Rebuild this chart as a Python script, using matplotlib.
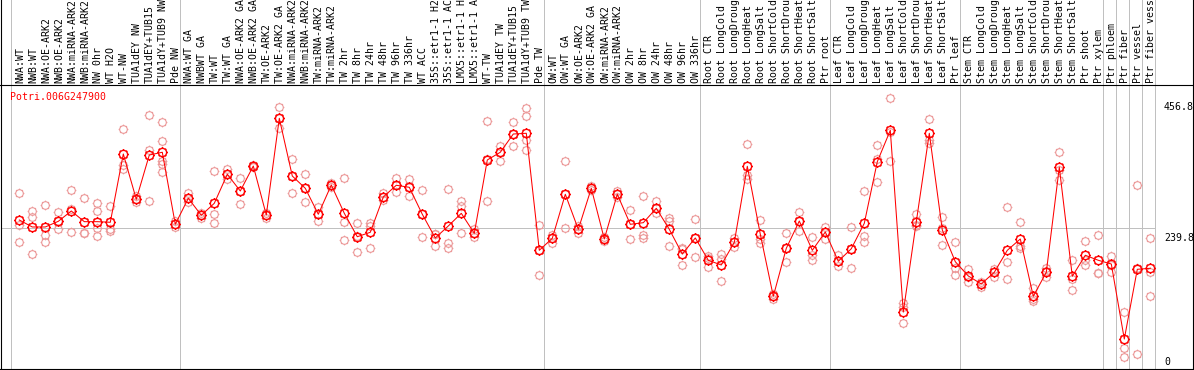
import numpy as np
import matplotlib
matplotlib.use("Agg")
import matplotlib.pyplot as plt
import matplotlib.path as mpath
import matplotlib.transforms as mtransforms
from matplotlib.lines import Line2D

# sample labels, in plotting order
labels = [
    "NWA:WT", "NWB:WT", "NWA:OE-ARK2", "NWB:OE-ARK2", "NWA:miRNA-ARK2", "NWB:miRNA-ARK2",
    "NW 0hr", "WT H2O", "WT-NW", "TUA1dEY NW", "TUA1dEY+TUB15", "TUA1dY+TUB9 NW", "Pde NW",
    "NWA:WT GA", "NWBWT GA", "TW:WT", "TW:WT GA", "NWA:OE-ARK2 GA", "NWB:OE-ARK2 GA",
    "TW:OE-ARK2", "TW:OE-ARK2 GA", "NWA:miRNA-ARK2 GA", "NWB:miRNA-ARK2 GA", "TW:miRNA-ARK2",
    "TW:miRNA-ARK2 GA", "TW 2hr", "TW 8hr", "TW 24hr", "TW 48hr", "TW 96hr", "TW 336hr",
    "WT ACC", "35S::etr1-1 H2O", "35S::etr1-1 ACC", "LMX5::etr1-1 H2O", "LMX5::etr1-1 ACC",
    "WT-TW", "TUA1dEY TW", "TUA1dEY+TUB15 TW", "TUA1dY+TUB9 TW", "Pde TW",
    "OW:WT", "OW:WT GA", "OW:OE-ARK2", "OW:OE-ARK2 GA", "OW:miRNA-ARK2", "OW:miRNA-ARK2 GA",
    "OW 2hr", "OW 8hr", "OW 24hr", "OW 48hr", "OW 96hr", "OW 336hr",
    "Root CTR", "Root LongCold", "Root LongDrought", "Root LongHeat", "Root LongSalt",
    "Root ShortCold", "Root ShortDrought", "Root ShortHeat", "Root ShortSalt", "Ptr root",
    "Leaf CTR", "Leaf LongCold", "Leaf LongDrought", "Leaf LongHeat", "Leaf LongSalt",
    "Leaf ShortCold", "Leaf ShortDrought", "Leaf ShortHeat", "Leaf ShortSalt", "Ptr leaf",
    "Stem CTR", "Stem LongCold", "Stem LongDrought", "Stem LongHeat", "Stem LongSalt",
    "Stem ShortCold", "Stem ShortDrought", "Stem ShortHeat", "Stem ShortSalt", "Ptr shoot",
    "Ptr xylem", "Ptr phloem", "Ptr fiber", "Ptr vessel", "Ptr fiber vessel",
]

# number of samples in each boxed group
group_sizes = [13, 28, 12, 10, 10, 11, 1, 1, 1, 1]

# mean expression per sample
means = [
    253.0, 241.3, 241.3, 250.8, 268.1, 250.2, 250.2, 249.2, 363.6, 287.7,
    361.9, 366.5, 245.8, 289.4, 260.9, 281.0, 329.6, 301.6, 343.5, 261.4,
    423.4, 326.7, 306.1, 262.6, 311.7, 264.2, 225.0, 232.4, 291.6, 311.2,
    307.8, 262.6, 222.9, 243.0, 264.2, 230.7, 353.6, 366.5, 397.1, 398.3,
    202.2, 222.4, 296.1, 237.4, 306.1, 221.2, 296.1, 245.8, 248.5, 272.6,
    237.4, 196.0, 222.9, 185.5, 177.6, 215.6, 343.0, 229.1, 125.2, 205.6,
    251.3, 202.2, 232.9, 183.8, 204.9, 247.5, 350.7, 403.3, 98.9, 250.2,
    398.3, 236.3, 183.1, 159.2, 145.8, 165.4, 202.2, 221.2, 125.2, 165.4,
    341.3, 158.7, 193.9, 185.5, 179.3, 53.6, 170.4, 172.1,
]

# individual replicates per sample
reps = [
    [297.8, 244.6, 215.6], [268.6, 258.5, 195.5], [277.6, 227.9, 215.6], [266.4, 237.4, 251.3],
    [303.3, 271.4, 232.4], [289.4, 231.7, 230.7], [281.0, 267.6, 239.6, 226.7], [276.0, 237.4, 235.1],
    [405.0, 345.7, 338.0], [293.2, 283.7, 287.7], [429.0, 370.3, 284.9],
    [416.7, 385.4, 352.4, 346.9, 332.9], [250.8, 240.8, 245.8],
    [298.8, 282.7, 289.4], [264.2, 256.9, 260.9], [335.1, 262.6, 247.5], [338.5, 321.2, 329.6],
    [322.9, 279.3, 301.6], [345.7, 341.3, 343.5], [264.2, 256.9, 260.9], [442.4, 407.7, 423.4],
    [354.7, 297.8, 326.7], [330.1, 282.7, 306.1], [275.3, 251.8, 262.6], [314.5, 308.8, 311.7],
    [322.9, 249.2, 219.0], [247.5, 198.9, 226.7], [248.5, 243.0, 205.6], [297.8, 286.5, 291.6],
    [322.9, 299.4, 311.2], [321.2, 293.7, 307.8], [303.3, 224.0, 262.6], [229.6, 208.9, 230.0],
    [304.5, 214.0, 206.6], [285.4, 276.5, 230.7], [237.9, 225.0, 230.7], [419.4, 284.9, 356.0],
    [377.5, 351.4, 366.5], [416.7, 377.5, 397.1], [440.2, 427.8, 387.1, 370.3], [244.6, 160.4, 202.0],
    [227.9, 215.0, 222.4], [351.9, 239.1, 296.0], [231.7, 243.0, 237.4], [310.5, 303.3, 306.1],
    [225.0, 218.3, 221.2], [301.6, 292.1, 296.1], [269.8, 220.7, 245.8], [293.2, 227.9, 222.4],
    [284.9, 264.2, 272.6], [255.9, 251.3, 209.5], [206.6, 177.6, 204.0], [254.7, 191.0, 222.9],
    [193.2, 174.8, 189.8], [196.5, 187.2, 150.8], [222.4, 208.3, 215.6], [380.4, 328.4, 321.7],
    [253.0, 214.0, 220.7], [129.0, 120.1, 125.2], [230.7, 182.1, 205.6], [266.4, 234.6, 251.0],
    [224.5, 194.4, 186.0], [241.8, 221.7, 232.9], [194.9, 176.4, 183.8], [240.8, 172.1, 204.9],
    [301.6, 226.7, 216.7], [378.7, 316.2, 355.7], [456.8, 351.9, 401.1], [113.4, 107.7, 79.9],
    [263.1, 245.1, 242.4], [421.7, 387.1, 381.5], [257.5, 211.1, 240.3], [215.6, 172.1, 160.4],
    [170.9, 149.6, 157.1], [149.6, 140.2, 145.8], [170.4, 158.0, 165.4], [274.3, 182.1, 153.7],
    [249.2, 205.6, 208.8], [138.6, 116.8, 120.3], [172.1, 157.0, 167.0], [366.5, 320.0, 337.4],
    [186.0, 135.2, 154.9], [217.8, 177.6, 186.3], [227.4, 164.7, 164.4], [193.2, 166.4, 178.3],
    [98.4, 38.0, 24.0], [311.2, 28.0, 172.0], [222.4, 166.4, 125.2],
]

gene = "Potri.006G247900"
ytick_vals = [456.8, 239.8, 0]

W, H = 1194, 370
fig = plt.figure(figsize=(W / 100, H / 100), dpi=100)
fig.patch.set_facecolor("white")

# plot box in pixels
left_px, right_px, top_px, bottom_px = 1, 1155.3, 85, 369
ax = fig.add_axes([left_px / W, (H - bottom_px) / H,
                   (right_px - left_px) / W, (bottom_px - top_px) / H])
ax.set_xlim((left_px - 19.3) / 13, (right_px - 19.3) / 13)
ax.set_ylim(3.35, 479.2)
ax.axis("off")

mono = "DejaVu Sans Mono"
fs = 7.1
grey = "#c0c0c0"
faint = "#ec9a9a"

# marker: circle with little ticks around it
verts = list(mpath.Path.unit_circle().vertices)
codes = list(mpath.Path.unit_circle().codes)
for a in np.deg2rad(np.arange(0, 360, 45)):
    verts += [(np.cos(a), np.sin(a)), (1.28 * np.cos(a), 1.28 * np.sin(a))]
    codes += [mpath.Path.MOVETO, mpath.Path.LINETO]
sprite = mpath.Path(verts, codes)

# horizontal grid line
ax.axhline(239.8, color=grey, lw=0.72, antialiased=False, zorder=1)

# group separators, run through the header as well
extra = top_px / (bottom_px - top_px)
seps = [-0.64]
pos = -1
for g in group_sizes:
    pos += g
    seps.append(pos + 0.385)
for s in seps:
    ax.axvline(s, ymin=-2 / (bottom_px - top_px), ymax=1 + extra, color=grey,
               lw=0.72, antialiased=False, clip_on=False, zorder=1)

x = np.arange(len(means))

for i, r in enumerate(reps):
    ax.plot([i] * len(r), r, ls="none", marker=sprite, ms=7.0, mfc="none",
            mec=faint, mew=0.8, zorder=2)

ax.plot(x, means, color="red", lw=0.75, zorder=3)
ax.plot(x, means, ls="none", marker=sprite, ms=7.6, mfc="none", mec="red",
        mew=1.0, zorder=4)

# rotated sample labels in the header
trans = mtransforms.blended_transform_factory(ax.transData, ax.transAxes)
for i, lab in enumerate(labels):
    ax.text(i + 0.05, 1 + 2 / (bottom_px - top_px), lab, rotation=90, ha="center",
            va="bottom", fontsize=fs, family=mono, transform=trans, clip_on=False)

ax.text(9 / (right_px - left_px), 1 - 12 / (bottom_px - top_px), gene, color="red",
        fontsize=fs, family=mono, ha="left", va="center", transform=ax.transAxes)

# value labels on the right
label_y = [107.5, 238, 361.7]
for v, yp in zip(ytick_vals, label_y):
    txt = "0" if v == 0 else "%.1f" % v
    fig.text(1164 / W, (H - yp) / H, txt, fontsize=fs, family=mono,
             ha="left", va="center")

# black frame lines
def hline(ypx):
    fig.add_artist(Line2D([0, 1], [(H - ypx) / H] * 2, color="black", lw=0.8,
                          snap=False, transform=fig.transFigure))

def vline(xpx):
    fig.add_artist(Line2D([xpx / W] * 2, [0, 1], color="black", lw=0.8,
                          snap=False, transform=fig.transFigure))

hline(85.5)
hline(369.5)
vline(1.5)
vline(1193.5)

fig.savefig("out.png", dpi=100)
